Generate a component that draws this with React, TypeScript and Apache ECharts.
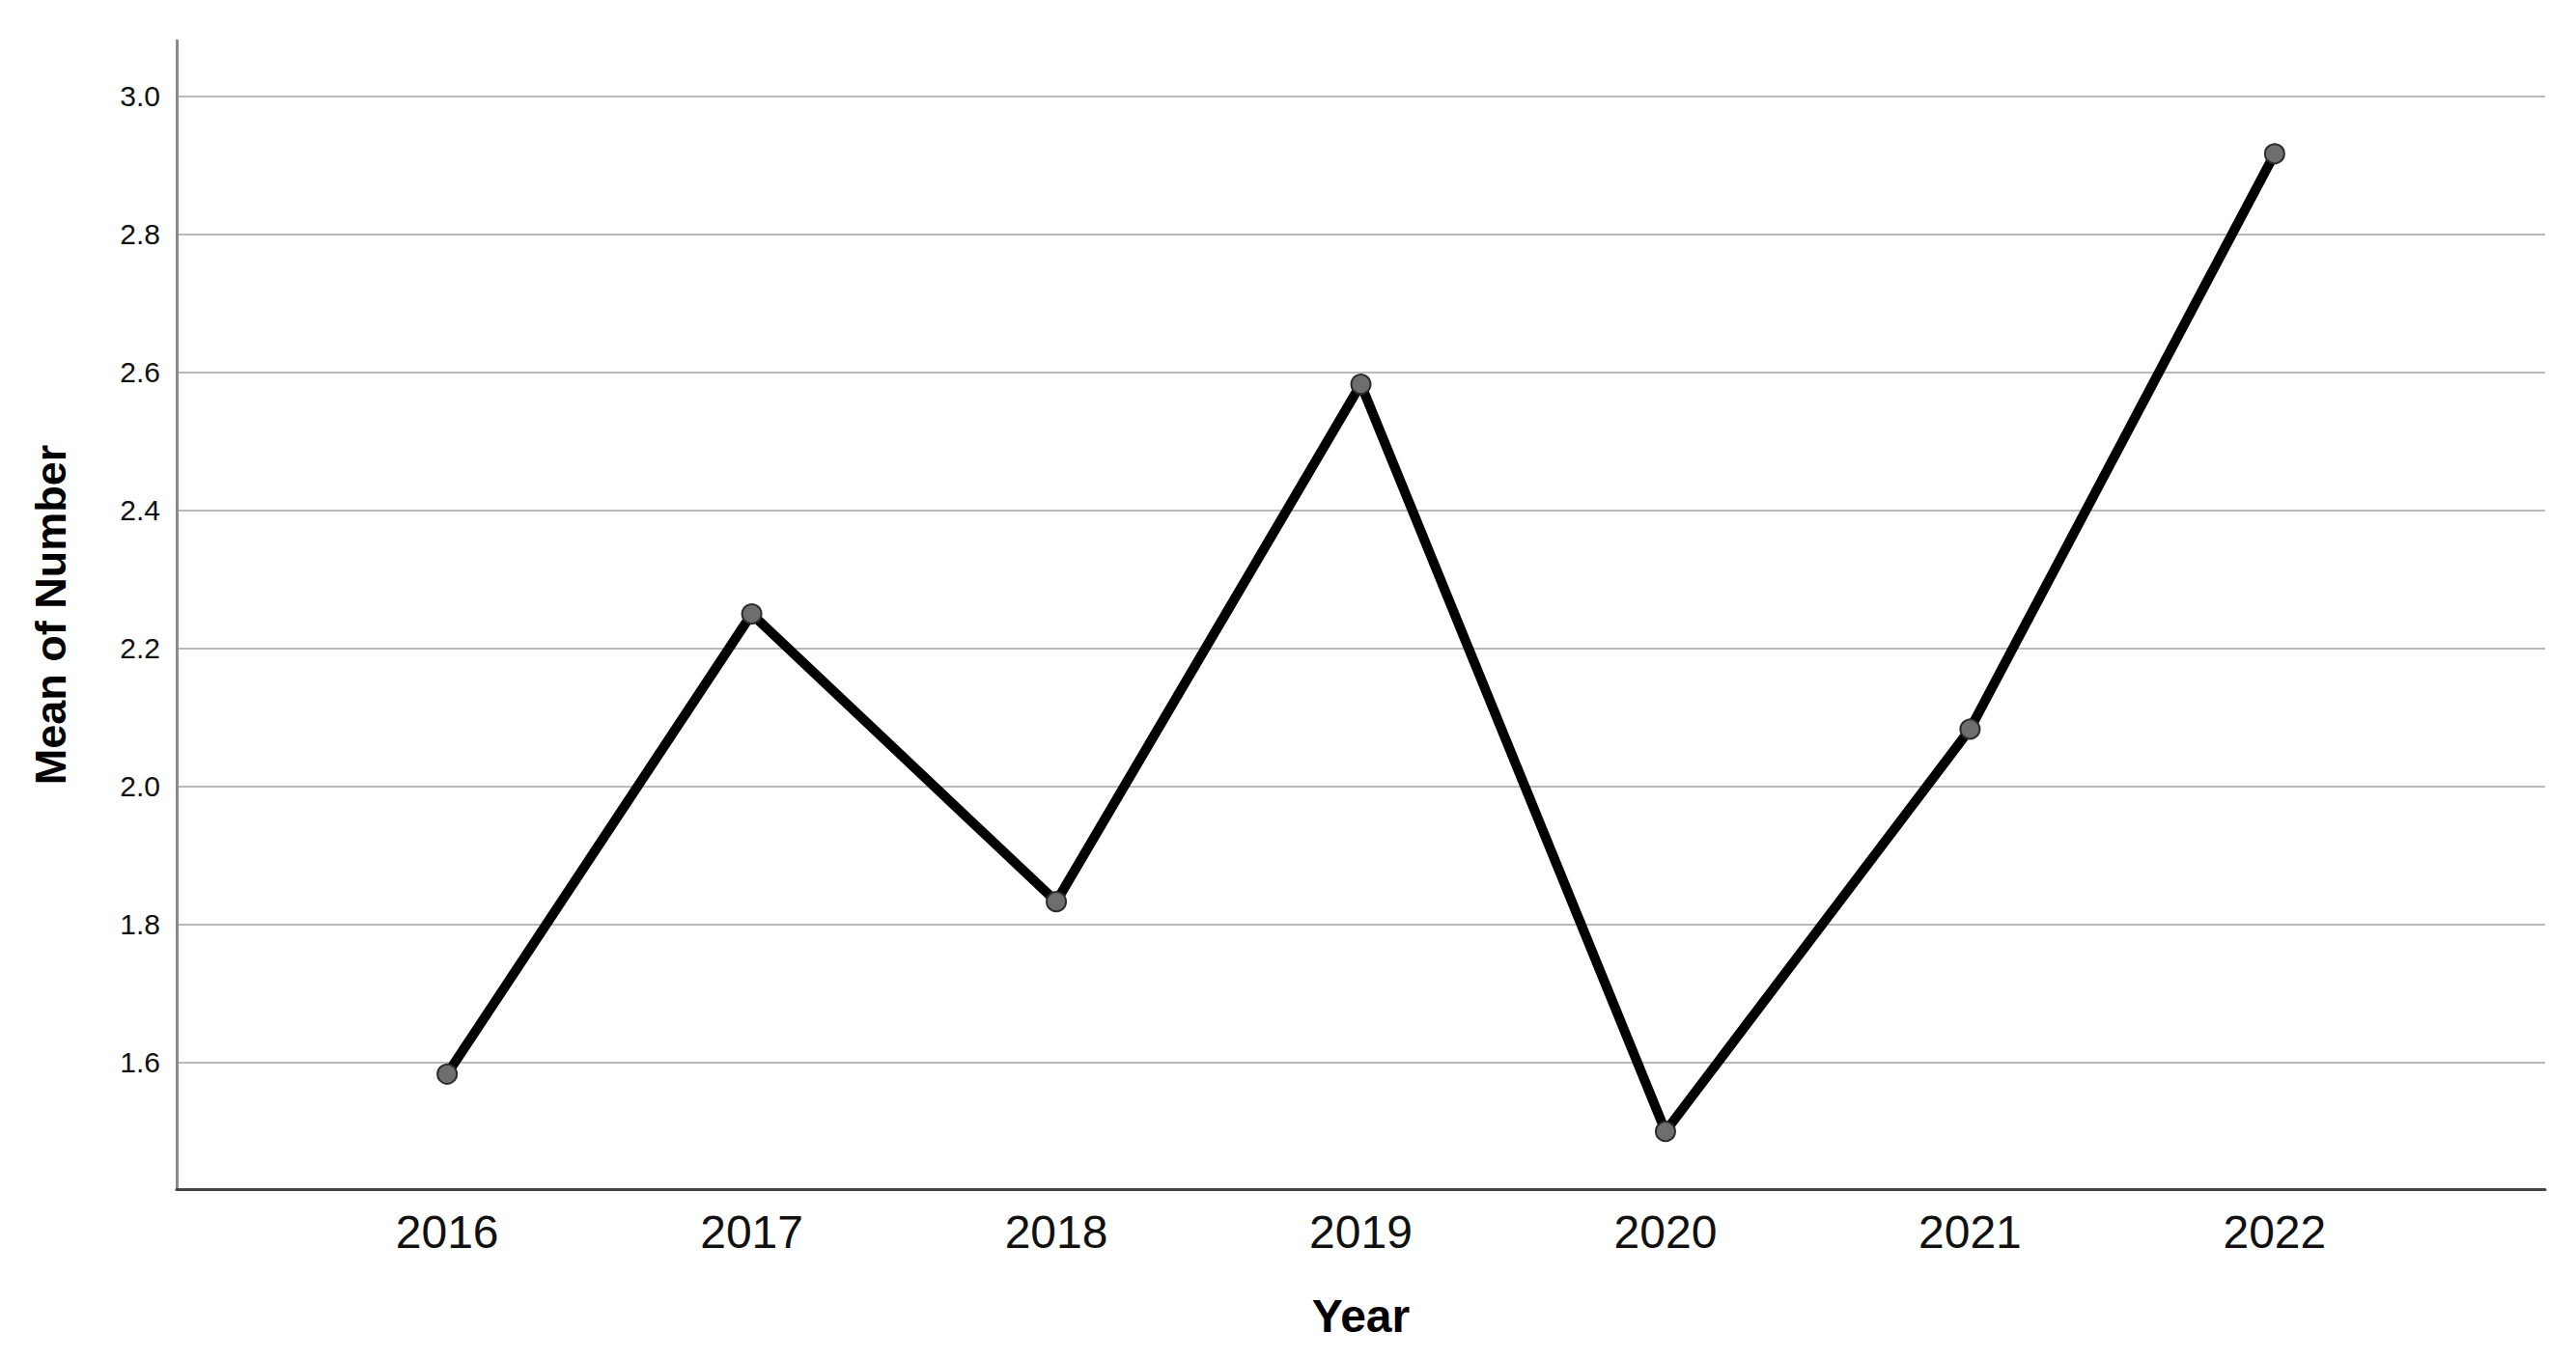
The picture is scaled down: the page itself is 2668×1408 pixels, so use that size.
import React, { useEffect, useRef } from "react";
import * as echarts from "echarts";

const years = [2016, 2017, 2018, 2019, 2020, 2021, 2022];
const meanValues = [1.583, 2.25, 1.833, 2.583, 1.5, 2.083, 2.917];
const yTicks = [1.6, 1.8, 2.0, 2.2, 2.4, 2.6, 2.8, 3.0];
const xTitle = "Year";
const yTitle = "Mean of Number";

export default function App() {
  const ref = useRef<HTMLDivElement>(null);
  useEffect(() => {
    if (!ref.current) return;
    const chart = echarts.init(ref.current, undefined, { renderer: "svg" });
    const font = "'Liberation Sans', Arial, sans-serif";
    chart.setOption({
      animation: false,
      backgroundColor: "#ffffff",
      grid: { left: 183, right: 32, top: 42, bottom: 176 },
      xAxis: {
        type: "value",
        min: 2015.112,
        max: 2022.888,
        name: xTitle,
        nameLocation: "middle",
        nameGap: 107,
        nameTextStyle: { fontFamily: font, fontSize: 48, fontWeight: "bold", color: "#000" },
        axisLine: { show: true, onZero: false, lineStyle: { color: "#454545", width: 3 } },
        axisTick: { show: false, customValues: years },
        splitLine: { show: false },
        axisLabel: {
          customValues: years,
          formatter: (v: number) => String(Math.round(v)),
          fontFamily: font,
          fontSize: 48,
          color: "#111",
          margin: 20,
        },
      },
      yAxis: {
        type: "value",
        min: 1.4163,
        max: 3.0811,
        name: yTitle,
        nameLocation: "middle",
        nameRotate: 90,
        nameGap: 108,
        nameTextStyle: { fontFamily: font, fontSize: 45, fontWeight: "bold", color: "#000" },
        axisLine: { show: true, onZero: false, lineStyle: { color: "#8a8a8a", width: 3 } },
        axisTick: { show: false, customValues: yTicks },
        splitLine: { show: true, lineStyle: { color: "#b9b9b9", width: 2 } },
        axisLabel: {
          customValues: yTicks,
          formatter: (v: number) => v.toFixed(1),
          fontFamily: font,
          fontSize: 30,
          color: "#111",
          margin: 17,
          padding: [12, 0, 0, 0],
        },
      },
      series: [
        {
          type: "line",
          data: years.map((y, i) => [y, meanValues[i]]),
          symbol: "circle",
          symbolSize: 20,
          lineStyle: { color: "#000000", width: 10 },
          itemStyle: { color: "#6e6e6e", borderColor: "#2b2b2b", borderWidth: 2 },
        },
      ],
    });
    return () => chart.dispose();
  }, []);
  return (
    <div
      ref={ref}
      style={{ position: "fixed", left: 0, top: 0, width: 2668, height: 1408, background: "#fff" }}
    />
  );
}
